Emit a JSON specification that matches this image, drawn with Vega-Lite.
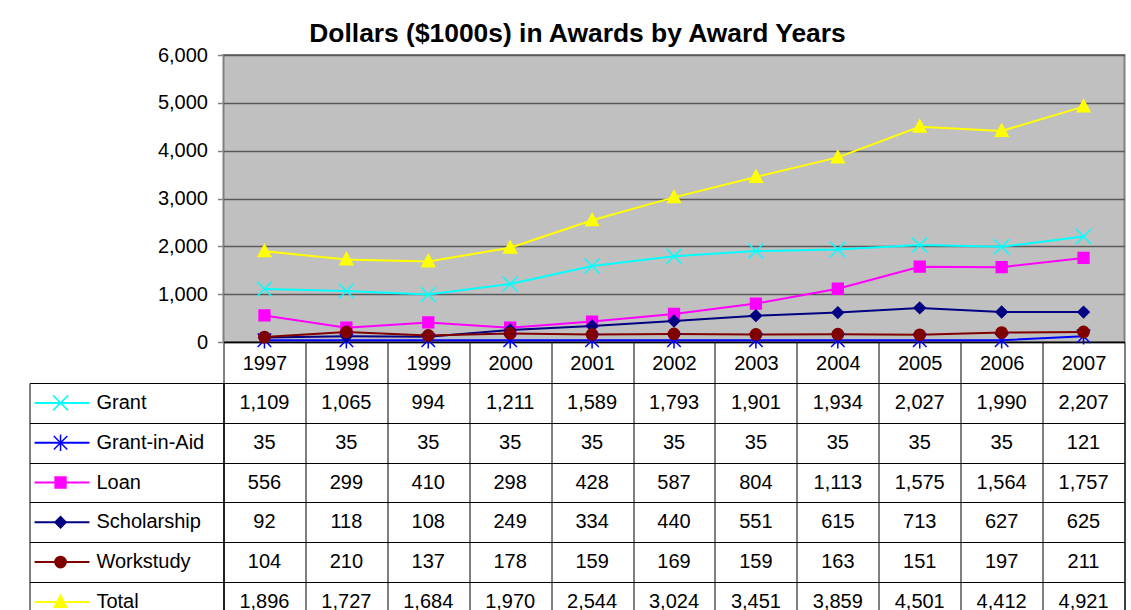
{
  "$schema": "https://vega.github.io/schema/vega-lite/v6.json",
  "padding": {"left": 28.5, "top": 20, "right": 5, "bottom": 0},
  "background": "white",
  "config": {
    "view": {"stroke": null},
    "font": "Liberation Sans",
    "text": {"font": "Liberation Sans"}
  },
  "title": {
    "text": "Dollars ($1000s) in Awards by Award Years",
    "fontSize": 26.4,
    "fontWeight": "bold",
    "font": "Liberation Sans",
    "color": "black",
    "anchor": "middle",
    "offset": -3
  },
  "datasets": {
    "series": [
      {"series": "Grant"},
      {"series": "Grant-in-Aid"},
      {"series": "Loan"},
      {"series": "Scholarship"},
      {"series": "Workstudy"},
      {"series": "Total"}
    ],
    "awards": [
      {"year": "1997", "series": "Grant", "value": 1109},
      {"year": "1998", "series": "Grant", "value": 1065},
      {"year": "1999", "series": "Grant", "value": 994},
      {"year": "2000", "series": "Grant", "value": 1211},
      {"year": "2001", "series": "Grant", "value": 1589},
      {"year": "2002", "series": "Grant", "value": 1793},
      {"year": "2003", "series": "Grant", "value": 1901},
      {"year": "2004", "series": "Grant", "value": 1934},
      {"year": "2005", "series": "Grant", "value": 2027},
      {"year": "2006", "series": "Grant", "value": 1990},
      {"year": "2007", "series": "Grant", "value": 2207},
      {"year": "1997", "series": "Grant-in-Aid", "value": 35},
      {"year": "1998", "series": "Grant-in-Aid", "value": 35},
      {"year": "1999", "series": "Grant-in-Aid", "value": 35},
      {"year": "2000", "series": "Grant-in-Aid", "value": 35},
      {"year": "2001", "series": "Grant-in-Aid", "value": 35},
      {"year": "2002", "series": "Grant-in-Aid", "value": 35},
      {"year": "2003", "series": "Grant-in-Aid", "value": 35},
      {"year": "2004", "series": "Grant-in-Aid", "value": 35},
      {"year": "2005", "series": "Grant-in-Aid", "value": 35},
      {"year": "2006", "series": "Grant-in-Aid", "value": 35},
      {"year": "2007", "series": "Grant-in-Aid", "value": 121},
      {"year": "1997", "series": "Loan", "value": 556},
      {"year": "1998", "series": "Loan", "value": 299},
      {"year": "1999", "series": "Loan", "value": 410},
      {"year": "2000", "series": "Loan", "value": 298},
      {"year": "2001", "series": "Loan", "value": 428},
      {"year": "2002", "series": "Loan", "value": 587},
      {"year": "2003", "series": "Loan", "value": 804},
      {"year": "2004", "series": "Loan", "value": 1113},
      {"year": "2005", "series": "Loan", "value": 1575},
      {"year": "2006", "series": "Loan", "value": 1564},
      {"year": "2007", "series": "Loan", "value": 1757},
      {"year": "1997", "series": "Scholarship", "value": 92},
      {"year": "1998", "series": "Scholarship", "value": 118},
      {"year": "1999", "series": "Scholarship", "value": 108},
      {"year": "2000", "series": "Scholarship", "value": 249},
      {"year": "2001", "series": "Scholarship", "value": 334},
      {"year": "2002", "series": "Scholarship", "value": 440},
      {"year": "2003", "series": "Scholarship", "value": 551},
      {"year": "2004", "series": "Scholarship", "value": 615},
      {"year": "2005", "series": "Scholarship", "value": 713},
      {"year": "2006", "series": "Scholarship", "value": 627},
      {"year": "2007", "series": "Scholarship", "value": 625},
      {"year": "1997", "series": "Workstudy", "value": 104},
      {"year": "1998", "series": "Workstudy", "value": 210},
      {"year": "1999", "series": "Workstudy", "value": 137},
      {"year": "2000", "series": "Workstudy", "value": 178},
      {"year": "2001", "series": "Workstudy", "value": 159},
      {"year": "2002", "series": "Workstudy", "value": 169},
      {"year": "2003", "series": "Workstudy", "value": 159},
      {"year": "2004", "series": "Workstudy", "value": 163},
      {"year": "2005", "series": "Workstudy", "value": 151},
      {"year": "2006", "series": "Workstudy", "value": 197},
      {"year": "2007", "series": "Workstudy", "value": 211},
      {"year": "1997", "series": "Total", "value": 1896},
      {"year": "1998", "series": "Total", "value": 1727},
      {"year": "1999", "series": "Total", "value": 1684},
      {"year": "2000", "series": "Total", "value": 1970},
      {"year": "2001", "series": "Total", "value": 2544},
      {"year": "2002", "series": "Total", "value": 3024},
      {"year": "2003", "series": "Total", "value": 3451},
      {"year": "2004", "series": "Total", "value": 3859},
      {"year": "2005", "series": "Total", "value": 4501},
      {"year": "2006", "series": "Total", "value": 4412},
      {"year": "2007", "series": "Total", "value": 4921}
    ]
  },
  "columns": 2,
  "bounds": "flush",
  "align": "each",
  "spacing": {"row": 41, "column": 0},
  "resolve": {"scale": {"x": "independent", "y": "independent"}},
  "concat": [
    {
      "width": 194,
      "height": 287,
      "data": {"values": [{}]},
      "mark": {"type": "text", "text": ""}
    },
    {
      "width": 901,
      "height": 287,
      "data": {"name": "awards"},
      "view": {"fill": "#c0c0c0", "stroke": "#808080", "strokeWidth": 2},
      "encoding": {
        "x": {
          "field": "year",
          "type": "ordinal",
          "scale": {"type": "band", "paddingInner": 0, "paddingOuter": 0},
          "axis": {
            "title": null,
            "orient": "bottom",
            "tickBand": "extent",
            "tickSize": 41,
            "tickColor": "black",
            "tickWidth": 1,
            "domain": true,
            "domainColor": "black",
            "domainWidth": 1.5,
            "labelFontSize": 20,
            "labelColor": "black",
            "labelPadding": -30,
            "labelAngle": 0,
            "grid": false
          }
        },
        "y": {
          "field": "value",
          "type": "quantitative",
          "scale": {"domain": [0, 6000], "nice": false},
          "axis": {
            "title": null,
            "values": [0, 1000, 2000, 3000, 4000, 5000, 6000],
            "format": ",.0f",
            "tickSize": 6,
            "tickColor": "#808080",
            "tickWidth": 1.5,
            "labelFontSize": 20,
            "labelColor": "black",
            "labelPadding": 10,
            "domain": false,
            "grid": true,
            "gridColor": "#5a5a5a",
            "gridWidth": 1.5,
            "gridOpacity": 1
          }
        }
      },
      "layer": [
        {
          "mark": {"type": "line", "strokeWidth": 2},
          "encoding": {
            "stroke": {
              "field": "series",
              "type": "nominal",
              "scale": {
                "domain": ["Grant", "Grant-in-Aid", "Loan", "Scholarship", "Workstudy", "Total"],
                "range": ["#00ffff", "#0000ff", "#ff00ff", "#000080", "#800000", "#ffff00"]
              },
              "legend": null
            }
          }
        },
        {
          "mark": {"type": "point", "filled": true, "opacity": 1, "strokeWidth": 1.5, "size": 225},
          "encoding": {
            "fill": {
              "field": "series",
              "type": "nominal",
              "scale": {
                "domain": ["Grant", "Grant-in-Aid", "Loan", "Scholarship", "Workstudy", "Total"],
                "range": ["#00ffff", "#0000ff", "#ff00ff", "#000080", "#800000", "#ffff00"]
              },
              "legend": null
            },
            "stroke": {
              "field": "series",
              "type": "nominal",
              "scale": {
                "domain": ["Grant", "Grant-in-Aid", "Loan", "Scholarship", "Workstudy", "Total"],
                "range": ["#00ffff", "#0000ff", "#ff00ff", "#000080", "#800000", "#ffff00"]
              },
              "legend": null
            },
            "shape": {
              "field": "series",
              "type": "nominal",
              "scale": {
                "domain": ["Grant", "Grant-in-Aid", "Loan", "Scholarship", "Workstudy", "Total"],
                "range": [
                  "M-1,-1L1,1M-1,1L1,-1",
                  "M-0.9,-0.9L0.9,0.9M-0.9,0.9L0.9,-0.9M0,-1.1L0,1.1",
                  "M-0.72,-0.72H0.72V0.72H-0.72Z",
                  "M-0.75,0L0,-0.75L0.75,0L0,0.75Z",
                  "M-0.75,0A0.75,0.75,0,1,0,0.75,0A0.75,0.75,0,1,0,-0.75,0Z",
                  "M0,-0.9L0.85,0.7L-0.85,0.7Z"
                ]
              },
              "legend": null
            }
          }
        }
      ]
    },
    {
      "width": 194,
      "height": 238.8,
      "data": {"name": "series"},
      "view": {"stroke": "black", "strokeWidth": 1},
      "encoding": {
        "y": {
          "field": "series",
          "type": "nominal",
          "scale": {
            "type": "band",
            "domain": ["Grant", "Grant-in-Aid", "Loan", "Scholarship", "Workstudy", "Total"],
            "paddingInner": 0,
            "paddingOuter": 0
          },
          "axis": {
            "title": null,
            "grid": true,
            "tickBand": "extent",
            "gridColor": "black",
            "gridOpacity": 1,
            "labels": false,
            "ticks": false,
            "domain": false
          }
        }
      },
      "layer": [
        {
          "mark": {"type": "rule", "strokeWidth": 2},
          "encoding": {
            "x": {"datum": 0.026, "type": "quantitative", "scale": {"domain": [0, 1], "nice": false, "zero": false}, "axis": null},
            "x2": {"datum": 0.309},
            "stroke": {
              "field": "series",
              "type": "nominal",
              "scale": {
                "domain": ["Grant", "Grant-in-Aid", "Loan", "Scholarship", "Workstudy", "Total"],
                "range": ["#00ffff", "#0000ff", "#ff00ff", "#000080", "#800000", "#ffff00"]
              },
              "legend": null
            }
          }
        },
        {
          "mark": {"type": "point", "filled": true, "opacity": 1, "strokeWidth": 1.5, "size": 225},
          "encoding": {
            "x": {"datum": 0.16, "type": "quantitative", "axis": null},
            "fill": {
              "field": "series",
              "type": "nominal",
              "scale": {
                "domain": ["Grant", "Grant-in-Aid", "Loan", "Scholarship", "Workstudy", "Total"],
                "range": ["#00ffff", "#0000ff", "#ff00ff", "#000080", "#800000", "#ffff00"]
              },
              "legend": null
            },
            "stroke": {
              "field": "series",
              "type": "nominal",
              "scale": {
                "domain": ["Grant", "Grant-in-Aid", "Loan", "Scholarship", "Workstudy", "Total"],
                "range": ["#00ffff", "#0000ff", "#ff00ff", "#000080", "#800000", "#ffff00"]
              },
              "legend": null
            },
            "shape": {
              "field": "series",
              "type": "nominal",
              "scale": {
                "domain": ["Grant", "Grant-in-Aid", "Loan", "Scholarship", "Workstudy", "Total"],
                "range": [
                  "M-1,-1L1,1M-1,1L1,-1",
                  "M-0.9,-0.9L0.9,0.9M-0.9,0.9L0.9,-0.9M0,-1.1L0,1.1",
                  "M-0.72,-0.72H0.72V0.72H-0.72Z",
                  "M-0.75,0L0,-0.75L0.75,0L0,0.75Z",
                  "M-0.75,0A0.75,0.75,0,1,0,0.75,0A0.75,0.75,0,1,0,-0.75,0Z",
                  "M0,-0.9L0.85,0.7L-0.85,0.7Z"
                ]
              },
              "legend": null
            }
          }
        },
        {
          "mark": {"type": "text", "align": "left", "baseline": "middle", "fontSize": 20, "color": "black"},
          "encoding": {
            "x": {"datum": 0.345, "type": "quantitative", "axis": null},
            "text": {"field": "series", "type": "nominal"}
          }
        }
      ]
    },
    {
      "width": 901,
      "height": 238.8,
      "data": {"name": "awards"},
      "view": {"stroke": "black", "strokeWidth": 1},
      "mark": {"type": "text", "fontSize": 20, "color": "black", "baseline": "middle"},
      "encoding": {
        "x": {
          "field": "year",
          "type": "ordinal",
          "scale": {"type": "band", "paddingInner": 0, "paddingOuter": 0},
          "axis": {
            "title": null,
            "grid": true,
            "tickBand": "extent",
            "gridColor": "black",
            "gridOpacity": 1,
            "labels": false,
            "ticks": false,
            "domain": false
          }
        },
        "y": {
          "field": "series",
          "type": "nominal",
          "scale": {
            "type": "band",
            "domain": ["Grant", "Grant-in-Aid", "Loan", "Scholarship", "Workstudy", "Total"],
            "paddingInner": 0,
            "paddingOuter": 0
          },
          "axis": {
            "title": null,
            "grid": true,
            "tickBand": "extent",
            "gridColor": "black",
            "gridOpacity": 1,
            "labels": false,
            "ticks": false,
            "domain": false
          }
        },
        "text": {"field": "value", "type": "quantitative", "format": ","}
      }
    }
  ]
}
